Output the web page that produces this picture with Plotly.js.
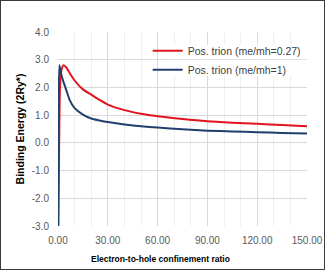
<!DOCTYPE html>
<html>
<head>
<meta charset="utf-8">
<script src="https://cdn.plot.ly/plotly-3.0.1.min.js"></script>
<style>
  html, body { margin: 0; padding: 0; background: #ffffff; }
  #chart { width: 323px; height: 268px; border: 1.5px solid #3a3a3a; }
</style>
</head>
<body>
<div id="chart"></div>
<script>
// Data
const seriesNames = ["Pos. trion (me/mh=0.27)", "Pos. trion (me/mh=1)"];

const ratioHeavy = [0.2, 0.7, 1.2, 2, 3.3, 5, 7, 10, 15, 20, 25, 30, 40, 50, 60, 75, 90, 105, 120, 135, 150];
const energyHeavy = [-3.0, 0.0, 2.0, 2.6, 2.8, 2.72, 2.52, 2.25, 1.93, 1.74, 1.55, 1.38, 1.18, 1.05, 0.96, 0.86, 0.78, 0.73, 0.69, 0.64, 0.60];

const ratioEqual = [0.1, 0.4, 0.8, 1.5, 2.5, 3.3, 5.3, 7, 10, 15, 20, 25, 30, 40, 50, 60, 75, 90, 105, 120, 135, 150];
const energyEqual = [-3.0, 1.0, 2.8, 2.6, 2.35, 2.2, 1.85, 1.55, 1.25, 1.02, 0.88, 0.81, 0.75, 0.66, 0.60, 0.55, 0.49, 0.44, 0.41, 0.385, 0.36, 0.34];

const xTickVals = [0, 30, 60, 90, 120, 150];
const xTickText = ["0.00", "30.00", "60.00", "90.00", "120.00", "150.00"];
const yTickVals = [-3, -2, -1, 0, 1, 2, 3, 4];
const yTickText = ["-3.0", "-2.0", "-1.0", "0.0", "1.0", "2.0", "3.0", "4.0"];

const xTitle = "Electron-to-hole confinement ratio";
const yTitle = "Binding Energy (2Ry*)";

const traces = [
  { x: ratioHeavy, y: energyHeavy, name: seriesNames[0], mode: "lines",
    line: { color: "#e0141e", width: 2, shape: "spline", smoothing: 0.6 } },
  { x: ratioEqual, y: energyEqual, name: seriesNames[1], mode: "lines",
    line: { color: "#213f6d", width: 2, shape: "spline", smoothing: 0.6 } }
];

const layout = {
  width: 323, height: 268,
  margin: { l: 57, r: 17, t: 30.5, b: 42.5 },
  paper_bgcolor: "#ffffff",
  plot_bgcolor: "#ffffff",
  font: { family: "Liberation Sans, Arial, sans-serif", color: "#595959", size: 10 },
  showlegend: true,
  legend: {
    x: 0.36, y: 0.978, xanchor: "left", yanchor: "top",
    bgcolor: "rgba(255,255,255,0)",
    font: { size: 10.5, color: "#404040" },
    itemwidth: 30, tracegroupgap: 0
  },
  xaxis: {
    range: [0, 150],
    tickvals: xTickVals, ticktext: xTickText,
    showgrid: true, gridcolor: "#d9d9d9", gridwidth: 1,
    minor: { dtick: 10, showgrid: true, gridcolor: "#efefef", gridwidth: 1 },
    zeroline: false, showline: false, ticks: "",
    ticklabelstandoff: 7,
    tickfont: { size: 10, color: "#595959" }
  },
  yaxis: {
    range: [-3, 4],
    tickvals: yTickVals, ticktext: yTickText,
    showgrid: true, gridcolor: "#d9d9d9", gridwidth: 1,
    zeroline: false, showline: false, ticks: "",
    ticklabelstandoff: 8,
    tickfont: { size: 10, color: "#595959" },
    title: { text: yTitle, font: { size: 10.5, color: "#000000", family: "Liberation Sans, Arial, sans-serif", weight: "bold" }, standoff: 5 }
  },
  shapes: [
    { type: "rect", xref: "x", yref: "y", x0: 66, x1: 150, y0: 3.02, y1: 3.53,
      fillcolor: "#ffffff", line: { width: 0 }, layer: "between" },
    { type: "rect", xref: "x", yref: "y", x0: 66, x1: 150, y0: 2.42, y1: 2.98,
      fillcolor: "#ffffff", line: { width: 0 }, layer: "between" }
  ],
  annotations: [
    { text: "<b>" + xTitle + "</b>", xref: "paper", yref: "paper", x: 0.412, y: 0,
      xanchor: "center", yanchor: "middle", yshift: -33, showarrow: false,
      font: { size: 8.5, color: "#000000" } }
  ]
};

Plotly.newPlot("chart", traces, layout, { staticPlot: true, displayModeBar: false });
</script>
</body>
</html>
